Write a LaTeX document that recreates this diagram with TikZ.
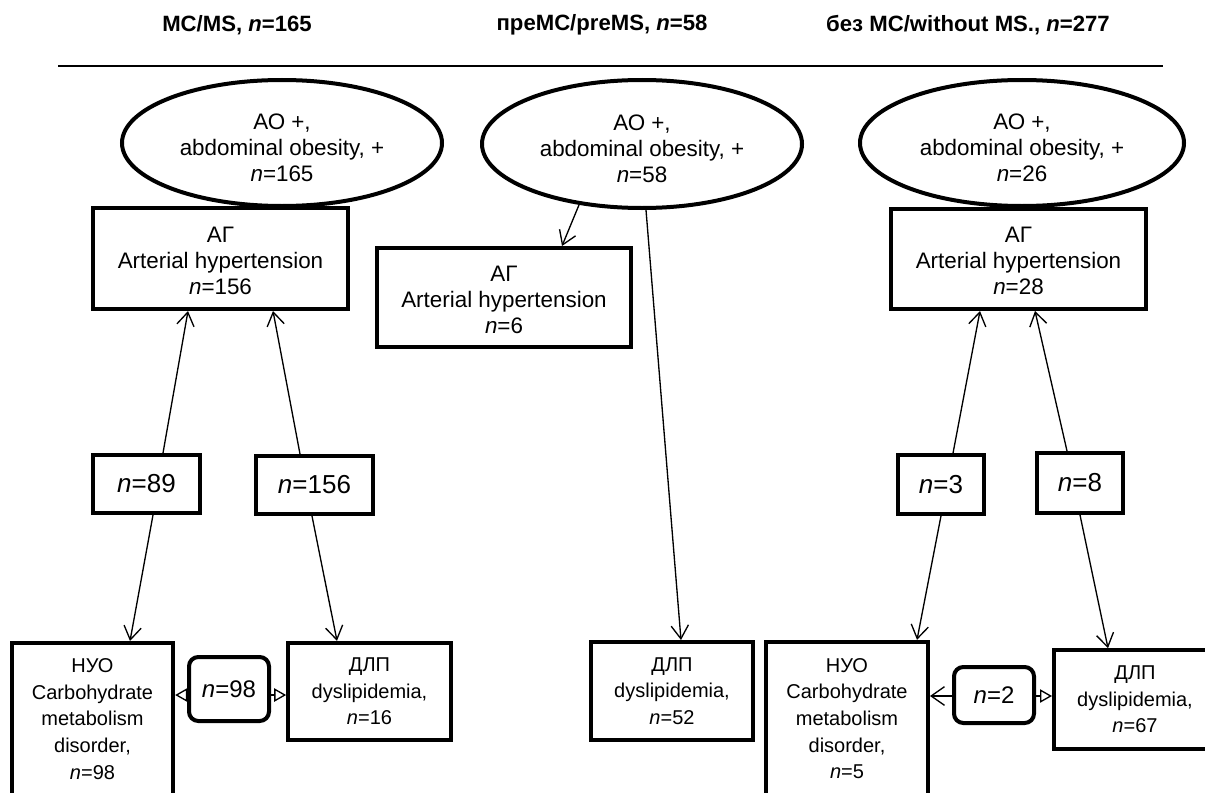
\documentclass[tikz,border=0pt]{standalone}
\usepackage{fontspec}
\setmainfont{Liberation Sans}
\usetikzlibrary{shapes.geometric,arrows.meta}
\newcommand\ellstrut{\rule{0pt}{19.5pt}}
\newcommand\boxstrut{\rule{0pt}{15pt}}
\begin{document}
\begin{tikzpicture}[x=0.75pt,y=-0.75pt,
  hdr/.style={font=\fontsize{16.6}{20}\selectfont\bfseries, inner sep=0pt},
  oval/.style={ellipse, draw, line width=3pt, align=center, inner sep=0pt, font=\fontsize{16.8}{19.5}\selectfont},
  bigbox/.style={draw, line width=3pt, align=center, inner sep=0pt, font=\fontsize{16.8}{19.5}\selectfont},
  lbl/.style={draw, line width=3pt, inner sep=0pt, font=\fontsize{19.5}{22}\selectfont},
  rlbl/.style={draw, line width=3pt, rounded corners=7pt, inner sep=0pt, font=\fontsize{18}{22}\selectfont},
  smallbox/.style={draw, line width=3pt, align=center, inner sep=0pt, font=\fontsize{15}{20}\selectfont},
  arr/.style={line width=1pt, -{Straight Barb[length=10pt,width=13pt]}},
  oarr/.style={line width=1pt, -{Triangle[open,length=9pt,width=10pt]}},
  barr/.style={line width=1pt, -{Straight Barb[length=10pt,width=14pt]}},
]
\useasboundingbox (0,0) rectangle (1205,792);
\clip (0,0) rectangle (1205,792);

% headers
\node[hdr] (h1) at (237,25) {МС/MS, \textit{n}=165};
\node[hdr] (h2) at (602,25) {преМС/preMS, \textit{n}=58};
\node[hdr] (h3) at (968,25) {без МС/without MS., \textit{n}=277};
\draw[line width=1.5pt] (58,66) -- (1163,66);

% ellipses
\node[oval, minimum width=240pt, minimum height=94.5pt] (e1) at (282,143) {\ellstrut АО +,\\abdominal obesity, +\\\textit{n}=165};
\node[oval, minimum width=240pt, minimum height=96pt] (e2) at (642,144) {\ellstrut АО +,\\abdominal obesity, +\\\textit{n}=58};
\node[oval, minimum width=243pt, minimum height=94.5pt] (e3) at (1022,143) {\ellstrut АО +,\\abdominal obesity, +\\\textit{n}=26};

% AH boxes
\node[bigbox, minimum width=191pt, minimum height=75.75pt] (ag1) at (220.5,258.5) {\boxstrut АГ\\Arterial hypertension\\\textit{n}=156};
\node[bigbox, minimum width=190.5pt, minimum height=74.25pt] (ag2) at (504,297.5) {\boxstrut АГ\\Arterial hypertension\\\textit{n}=6};
\node[bigbox, minimum width=191pt, minimum height=75pt] (ag3) at (1018.5,259) {\boxstrut АГ\\Arterial hypertension\\\textit{n}=28};

% count labels
\node[lbl, minimum width=80pt, minimum height=43.5pt] (n89) at (146.5,484) {\textit{n}=89};
\node[lbl, minimum width=88pt, minimum height=43.5pt] (n156) at (314.5,485) {\textit{n}=156};
\node[lbl, minimum width=64.5pt, minimum height=44pt] (n3) at (941,484.5) {\textit{n}=3};
\node[lbl, minimum width=64.5pt, minimum height=45pt] (n8) at (1080,483) {\textit{n}=8};

% bottom boxes
\node[smallbox, minimum width=121pt, minimum height=114pt] (nuo1) at (92.5,719) {НУО\\Carbohydrate\\metabolism\\disorder,\\\textit{n}=98};
\node[smallbox, minimum width=122pt, minimum height=73pt] (dlp1) at (369.5,691.5) {ДЛП\\dyslipidemia,\\\textit{n}=16};
\node[rlbl, minimum width=60pt, minimum height=48pt] (r98) at (229,689) {\textit{n}=98};
\node[smallbox, minimum width=121.5pt, minimum height=73.5pt] (dlp2) at (672,691) {ДЛП\\dyslipidemia,\\\textit{n}=52};
\node[smallbox, minimum width=121.5pt, minimum height=115pt] (nuo2) at (847,718.5) {НУО\\Carbohydrate\\metabolism\\disorder,\\\textit{n}=5};
\node[rlbl, minimum width=60pt, minimum height=42pt] (r2) at (994,695) {\textit{n}=2};
\node[smallbox, minimum width=121.5pt, minimum height=74pt] (dlp3) at (1135,699.5) {ДЛП\\dyslipidemia,\\\textit{n}=67};

% connectors
\draw[arr] (e2.224) -- ([shift={(58,0)}]ag2.north);
\draw[arr] ([shift={(4,0)}]e2.south) -- ([shift={(9,0)}]dlp2.north);

\draw[arr] ([shift={(16.5,0)}]n89.north) -- ([shift={(-32.5,0)}]ag1.south);
\draw[arr] ([shift={(6.5,0)}]n89.south) -- ([shift={(37.5,0)}]nuo1.north);
\draw[arr] ([shift={(-14.5,0)}]n156.north) -- ([shift={(52.5,0)}]ag1.south);
\draw[arr] ([shift={(-2.5,0)}]n156.south) -- ([shift={(-32.5,0)}]dlp1.north);

\draw[arr] ([shift={(12,0)}]n3.north) -- ([shift={(-38.5,0)}]ag3.south);
\draw[arr] (n3.south) -- ([shift={(70,0)}]nuo2.north);
\draw[arr] ([shift={(-13,0)}]n8.north) -- ([shift={(16.5,0)}]ag3.south);
\draw[arr] (n8.south) -- ([shift={(-27,0)}]dlp3.north);

\draw[oarr] ([shift={(0,6)}]r98.west) -- ([shift={(0,6)}]r98.west -| nuo1.east);
\draw[oarr] ([shift={(0,6)}]r98.east) -- ([shift={(0,6)}]r98.east -| dlp1.west);
\draw[barr] ([shift={(0,1)}]r2.west) -- ([shift={(0,1)}]r2.west -| nuo2.east);
\draw[oarr] ([shift={(0,1)}]r2.east) -- ([shift={(0,1)}]r2.east -| dlp3.west);
\end{tikzpicture}
\end{document}
